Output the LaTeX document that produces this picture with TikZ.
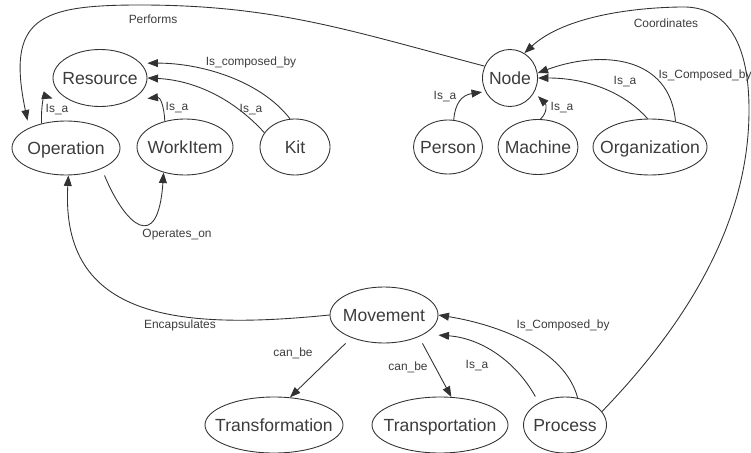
\documentclass[tikz,border=0pt]{standalone}
\usepackage{fontspec}
\setmainfont{Liberation Sans}
\definecolor{erline}{RGB}{50,50,50}
\definecolor{ertext}{RGB}{60,60,60}
\usetikzlibrary{arrows.meta,shapes.geometric,calc}
\newcommand{\ent}[1]{\makebox[0pt]{\raisebox{-3.6pt}[0pt][0pt]{#1}}}

\begin{document}
\begin{tikzpicture}[
  entity/.style={
    ellipse, inner sep=0pt,
    draw=erline, line width=0.5pt,
    font=\fontsize{10}{12}\selectfont,
    text=ertext
  },
  rel/.style={-{Triangle[length=6pt,width=4.5pt]}, line width=0.5pt, draw=erline},
  rlabel/.style={font=\fontsize{6.8}{8}\selectfont, text=ertext, inner sep=0pt}
]
\useasboundingbox (0,0) rectangle (15.02,-9.04);

\node[entity, minimum width=1.88cm, minimum height=1.14cm] (res)  at (2.00,-1.56)  {\ent{Resource}};
\node[entity, minimum width=2.16cm, minimum height=1.08cm] (op)   at (1.32,-2.96)  {\ent{Operation}};
\node[entity, minimum width=1.92cm, minimum height=1.12cm] (wi)   at (3.70,-2.94)  {\ent{WorkItem}};
\node[entity, minimum width=1.40cm, minimum height=1.12cm] (kit)  at (5.90,-2.94)  {\ent{Kit}};
\node[entity, minimum width=1.10cm, minimum height=1.14cm] (nd)   at (10.20,-1.56) {\ent{Node}};
\node[entity, minimum width=1.38cm, minimum height=1.08cm] (per)  at (8.96,-2.94)  {\ent{Person}};
\node[entity, minimum width=1.60cm, minimum height=1.10cm] (mac)  at (10.76,-2.94) {\ent{Machine}};
\node[entity, minimum width=2.28cm, minimum height=1.12cm] (org)  at (13.00,-2.94) {\ent{Organization}};
\node[entity, minimum width=2.16cm, minimum height=1.12cm] (mov)  at (7.68,-6.30)  {\ent{Movement}};
\node[entity, minimum width=2.76cm, minimum height=1.12cm] (trf)  at (5.48,-8.50)  {\ent{Transformation}};
\node[entity, minimum width=2.72cm, minimum height=1.12cm] (trp)  at (8.80,-8.50)  {\ent{Transportation}};
\node[entity, minimum width=1.66cm, minimum height=1.12cm] (proc) at (11.30,-8.50) {\ent{Process}};

\draw[rel] (nd.155) .. controls (7.02,-0.62) and (5.52,-0.10) .. (2.80,-0.10)
  .. controls (0.78,-0.10) and (0.12,-0.36) .. (op.north west |- op.north);
\draw[rel] (proc.20) .. controls (14.00,-6.20) and (14.98,-4.20) .. (14.98,-2.20)
  .. controls (14.98,-0.40) and (14.20,-0.12) .. (13.60,-0.14)
  .. controls (12.40,-0.16) and (11.20,-0.40) .. (nd.60);
\draw[rel] (kit.100) .. controls (5.20,-1.60) and (4.00,-1.26) .. (res.east |- res.20);
\draw[rel] (kit.155) .. controls (4.60,-1.90) and (3.80,-1.60) .. (res.east);
\draw[rel] (op.135) .. controls (0.82,-2.00) and (0.90,-1.92) .. (res.west |- res.south west);
\draw[rel] (wi.128) .. controls (3.28,-2.10) and (3.20,-1.94) .. (res.east |- res.south east);
\draw[rel] (op.south east |- op.south) .. controls (2.50,-4.50) and (3.16,-5.10) .. (wi.-130);
\draw[rel] (mov.west) .. controls (3.60,-6.60) and (1.20,-6.40) .. (op.-85);
\draw[rel] (mov.south west |- mov.south) -- (trf.60);
\draw[rel] (mov.south east |- mov.south) -- (trp.68);
\draw[rel] (proc.north west |- proc.north) .. controls (10.30,-7.20) and (9.60,-6.76) .. (mov.east |- mov.south east);
\draw[rel] (proc.65) .. controls (11.30,-7.00) and (10.00,-6.50) .. (mov.east);
\draw[rel] (per.78) .. controls (9.10,-2.06) and (9.24,-1.90) .. (nd.west |- nd.210);
\draw[rel] (mac.85) .. controls (10.96,-2.24) and (10.92,-2.08) .. (nd.east |- nd.-40);
\draw[rel] (org.95) .. controls (12.40,-1.76) and (11.60,-1.56) .. (nd.east);
\draw[rel] (org.45) .. controls (13.40,-1.10) and (12.00,-1.00) .. (nd.10);

\node[rlabel] (lperf)  at (3.06,-0.38)  {Performs};
\node[rlabel] (lcoord) at (13.32,-0.46) {Coordinates};
\node[rlabel] (lkitc)  at (5.02,-1.24)  {Is\_composed\_by};
\node[rlabel] (lkita)  at (5.02,-2.20)  {Is\_a};
\node[rlabel] (lopa)   at (1.14,-2.20)  {Is\_a};
\node[rlabel] (lwia)   at (3.54,-2.16)  {Is\_a};
\node[rlabel] (lopon)  at (3.54,-4.70)  {Operates\_on};
\node[rlabel] (lenc)   at (3.60,-6.50)  {Encapsulates};
\node[rlabel] (ltrf)   at (5.86,-7.06)  {can\_be};
\node[rlabel] (ltrp)   at (8.16,-7.34)  {can\_be};
\node[rlabel] (lproca) at (9.54,-7.32)  {Is\_a};
\node[rlabel] (lprocc) at (11.26,-6.50) {Is\_Composed\_by};
\node[rlabel] (lpera)  at (8.90,-1.94)  {Is\_a};
\node[rlabel] (lmaca)  at (11.24,-2.16) {Is\_a};
\node[rlabel] (lorga)  at (12.50,-1.64) {Is\_a};
\node[rlabel] (lorgc)  at (14.10,-1.50) {Is\_Composed\_by};
\end{tikzpicture}
\end{document}
